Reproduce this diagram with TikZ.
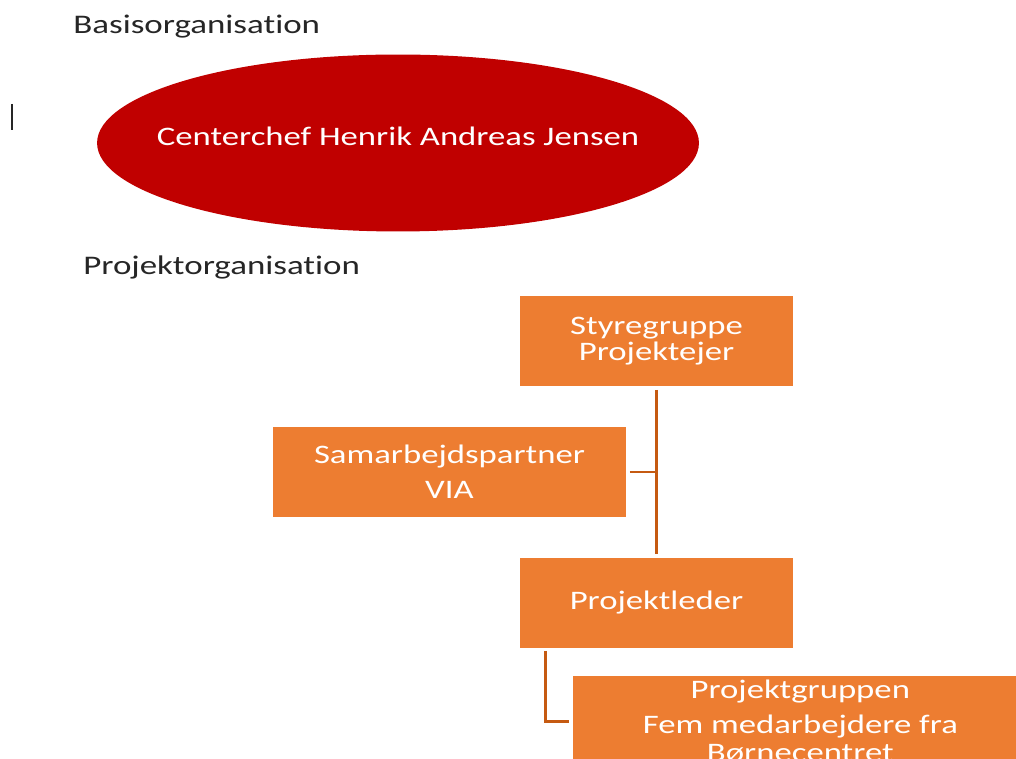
\documentclass[tikz,border=0pt]{standalone}
\usepackage{fontspec}
\setmainfont{Carlito}[FakeStretch=1.3, Ligatures=CommonOff]
\definecolor{chefred}{RGB}{192,0,0}
\definecolor{boxorange}{RGB}{237,125,49}
\definecolor{linkorange}{RGB}{197,90,17}
\definecolor{headgray}{RGB}{38,38,38}

\begin{document}
\begin{tikzpicture}[x=0.02cm, y=-0.02cm,
  head/.style={anchor=base west, inner sep=0pt, text=headgray, font=\fontsize{15.3}{18}\selectfont},
  box/.style={fill=boxorange, text=white, minimum width=5.46cm, minimum height=1.8cm, align=center, inner sep=0pt, font=\fontsize{15.2}{14.9}\selectfont},
  link/.style={draw=linkorange, line width=1.7pt}
]
  \clip (0,0) rectangle (1016,759);
  \draw[headgray, line width=0.8pt] (12,104) -- (12,130);

  \node[head] (basis) at (73,34) {Basisorganisation};
  \fill[chefred] (398,143) ellipse [x radius=6.02cm, y radius=1.77cm];
  \node[text=white, font=\fontsize{15.2}{17}\selectfont] (chef) at (398,136) {Centerchef Henrik Andreas Jensen};

  \node[head] (projorg) at (83,275) {Projektorganisation};
  \node[box] (styre) at (656.5,341) {Styregruppe\\Projektejer};
  \node[box, minimum width=7.06cm] (partner) at (449.5,472) {Samarbejdspartner\\[5pt]VIA};
  \node[box] (leder) at (656.5,603) {Projektleder};
  \node[box, minimum width=9.08cm, anchor=north west] (gruppe) at (573,676) {Projektgruppen\\[5pt]Fem medarbejdere fra\\[1pt]Børnecentret};

  \draw[link, shorten <=2pt, shorten >=2pt] (styre) -- (leder);
  \draw[link] ([xshift=2pt]partner.east) -- (partner.east -| styre.south);
  \draw[link] ([xshift=0.52cm, yshift=-1.5pt]leder.south west) |- ([xshift=-2pt]gruppe.west);
\end{tikzpicture}
\end{document}
